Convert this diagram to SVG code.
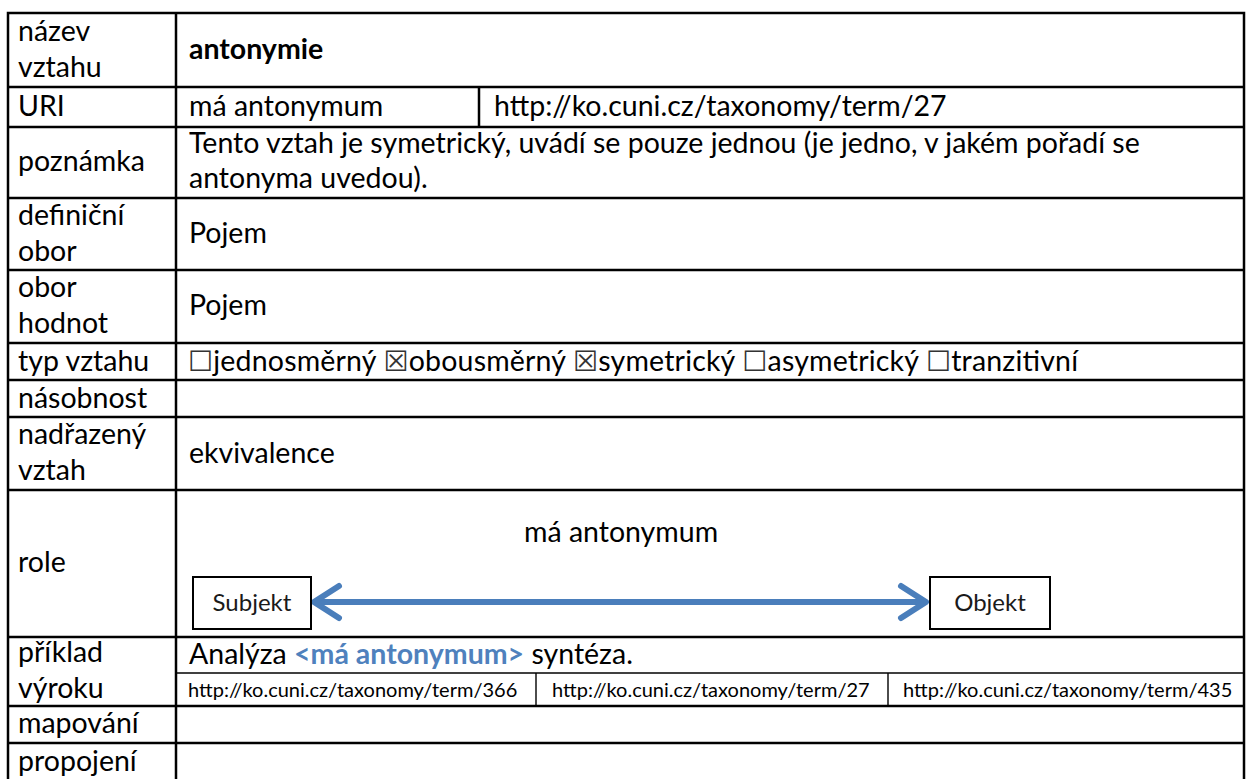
<svg xmlns="http://www.w3.org/2000/svg" width="1247" height="779" viewBox="0 0 1247 779">
<defs>
<style>
.t{font-family:Lato,'Liberation Sans',sans-serif;font-size:28.5px;fill:#000}
.b{font-weight:bold}
.s{font-size:20px}
.bx{font-size:24px;fill:#1a1a1a}
.cb{font-family:'DejaVu Sans',sans-serif;font-size:28px;fill:#333}
.lnk{fill:#4f81bd;font-weight:bold}
.ln{stroke:#000;stroke-width:2.5;fill:none}
.thin{stroke:#000;stroke-width:1.4;fill:none}
.node{fill:#fff;stroke:#000;stroke-width:2}
.arr{stroke:#4a7ebb;stroke-width:6;fill:none}
</style>
<marker id="chev" markerUnits="userSpaceOnUse" viewBox="0 0 34 40" markerWidth="34" markerHeight="40" refX="30" refY="20" orient="auto-start-reverse">
<path d="M5,4 L30,20 L5,36" fill="none" stroke="#4a7ebb" stroke-width="6" stroke-linecap="round" stroke-linejoin="round"/>
</marker>
</defs>
<rect width="1247" height="779" fill="#fff"/>

<g id="grid">
<rect x="8" y="13" width="1236" height="790" class="ln"/>
<line x1="176" y1="13" x2="176" y2="779" class="ln"/>
<line x1="8" y1="87" x2="1244" y2="87" class="ln"/>
<line x1="8" y1="127" x2="1244" y2="127" class="ln"/>
<line x1="8" y1="198" x2="1244" y2="198" class="ln"/>
<line x1="8" y1="270" x2="1244" y2="270" class="ln"/>
<line x1="8" y1="343" x2="1244" y2="343" class="ln"/>
<line x1="8" y1="380" x2="1244" y2="380" class="ln"/>
<line x1="8" y1="417" x2="1244" y2="417" class="ln"/>
<line x1="8" y1="490" x2="1244" y2="490" class="ln"/>
<line x1="8" y1="637" x2="1244" y2="637" class="ln"/>
<line x1="176" y1="673" x2="1244" y2="673" class="thin"/>
<line x1="8" y1="706" x2="1244" y2="706" class="ln"/>
<line x1="8" y1="743" x2="1244" y2="743" class="ln"/>
<line x1="479" y1="87" x2="479" y2="127" class="ln"/>
<line x1="536" y1="673" x2="536" y2="706" class="thin"/>
<line x1="888" y1="673" x2="888" y2="706" class="thin"/>
</g>

<g id="row-nazev" class="t">
<text x="18" y="41">název</text>
<text x="18" y="77">vztahu</text>
<text x="189" y="59" class="b">antonymie</text>
</g>
<g id="row-uri" class="t">
<text x="18" y="116">URI</text>
<text x="189" y="116">má antonymum</text>
<text x="494" y="116">http://ko.cuni.cz/taxonomy/term/27</text>
</g>
<g id="row-poznamka" class="t">
<text x="18" y="171">poznámka</text>
<text x="189" y="153">Tento vztah je symetrický, uvádí se pouze jednou (je jedno, v jakém pořadí se</text>
<text x="189" y="188">antonyma uvedou).</text>
</g>
<g id="row-definicni" class="t">
<text x="18" y="225">definiční</text>
<text x="18" y="261">obor</text>
<text x="189" y="243">Pojem</text>
</g>
<g id="row-obor" class="t">
<text x="18" y="297">obor</text>
<text x="18" y="333">hodnot</text>
<text x="189" y="315">Pojem</text>
</g>
<g id="row-typ" class="t">
<text x="18" y="371">typ vztahu</text>
<text x="188" y="371" textLength="890" lengthAdjust="spacing"><tspan class="cb">☐</tspan>jednosměrný <tspan class="cb">☒</tspan>obousměrný <tspan class="cb">☒</tspan>symetrický <tspan class="cb">☐</tspan>asymetrický <tspan class="cb">☐</tspan>tranzitivní</text>
</g>
<g id="row-nasobnost" class="t">
<text x="18" y="408">násobnost</text>
</g>
<g id="row-nadrazeny" class="t">
<text x="18" y="444">nadřazený</text>
<text x="18" y="480">vztah</text>
<text x="189" y="463">ekvivalence</text>
</g>
<g id="row-role" class="t">
<text x="18" y="572">role</text>
<text x="524" y="542">má antonymum</text>
</g>

<g id="connectors">
<line x1="314" y1="602" x2="926" y2="602" class="arr" marker-start="url(#chev)" marker-end="url(#chev)"/>
</g>
<g id="node-subjekt">
<rect x="193" y="577" width="118" height="52" class="node"/>
<text x="252" y="611" text-anchor="middle" class="t bx">Subjekt</text>
</g>
<g id="node-objekt">
<rect x="930" y="577" width="120" height="52" class="node"/>
<text x="990" y="611" text-anchor="middle" class="t bx">Objekt</text>
</g>

<g id="row-priklad" class="t">
<text x="18" y="662">příklad</text>
<text x="18" y="698">výroku</text>
<text x="189" y="664">Analýza <tspan class="lnk">&lt;má antonymum&gt;</tspan> syntéza.</text>
<text x="188" y="697" class="s">http://ko.cuni.cz/taxonomy/term/366</text>
<text x="552" y="697" class="s">http://ko.cuni.cz/taxonomy/term/27</text>
<text x="903" y="697" class="s">http://ko.cuni.cz/taxonomy/term/435</text>
</g>
<g id="row-mapovani" class="t">
<text x="18" y="733">mapování</text>
</g>
<g id="row-propojeni" class="t">
<text x="18" y="771">propojení</text>
</g>
</svg>
